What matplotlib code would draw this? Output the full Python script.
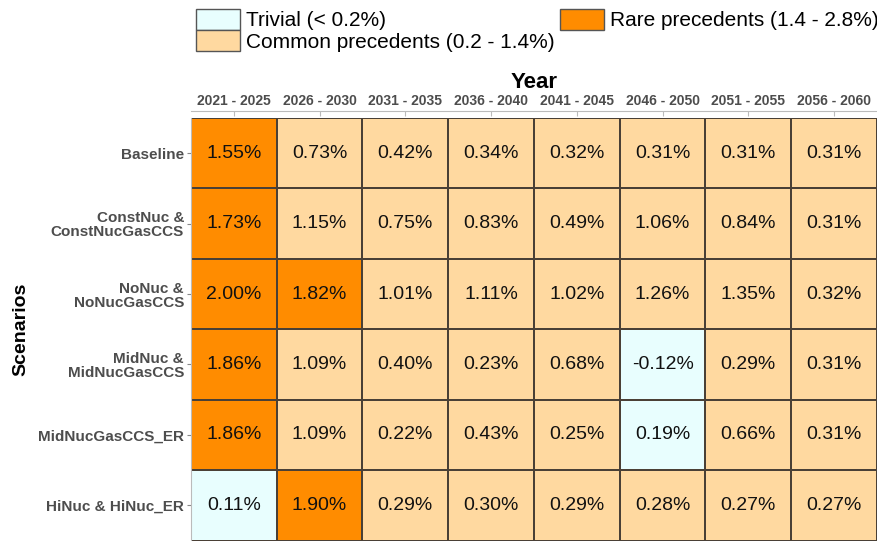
import numpy as np
import matplotlib
matplotlib.use("Agg")
import matplotlib.pyplot as plt
from matplotlib.colors import ListedColormap, BoundaryNorm
from matplotlib.patches import Patch

plt.rcParams['font.family'] = ['Liberation Sans', 'DejaVu Sans']

periods = ['2021 - 2025', '2026 - 2030', '2031 - 2035', '2036 - 2040',
           '2041 - 2045', '2046 - 2050', '2051 - 2055', '2056 - 2060']
scenarios = ['Baseline', 'ConstNuc &\nConstNucGasCCS', 'NoNuc &\nNoNucGasCCS',
             'MidNuc &\nMidNucGasCCS', 'MidNucGasCCS_ER', 'HiNuc & HiNuc_ER']

baseline = [1.55, 0.73, 0.42, 0.34, 0.32, 0.31, 0.31, 0.31]
constnuc = [1.73, 1.15, 0.75, 0.83, 0.49, 1.06, 0.84, 0.31]
nonuc = [2.00, 1.82, 1.01, 1.11, 1.02, 1.26, 1.35, 0.32]
midnuc = [1.86, 1.09, 0.40, 0.23, 0.68, -0.12, 0.29, 0.31]
midnuc_er = [1.86, 1.09, 0.22, 0.43, 0.25, 0.19, 0.66, 0.31]
hinuc = [0.11, 1.90, 0.29, 0.30, 0.29, 0.28, 0.27, 0.27]

bins = [-10, 0.2, 1.4, 10]
cat_colors = ['#E8FEFE', '#FFD9A0', '#FF8C00']
cat_labels = ['Trivial (< 0.2%)', 'Common precedents (0.2 - 1.4%)', 'Rare precedents (1.4 - 2.8%)']

vals = np.array([baseline, constnuc, nonuc, midnuc, midnuc_er, hinuc])

fig = plt.figure(figsize=(8.78, 5.41), dpi=100)
ax = fig.add_axes([191/878, 0.5/541, 686/878, 422.5/541])

# spines first: moving a spine resets the ticks
for s in ['right', 'bottom']:
    ax.spines[s].set_visible(False)
ax.spines['top'].set_position(('outward', 5))
ax.spines['top'].set_color('#bbbbbb')
ax.spines['left'].set_color('#bbbbbb')

cmap = ListedColormap(cat_colors)
norm = BoundaryNorm(bins, cmap.N)
ax.pcolormesh(np.arange(len(periods)+1), np.arange(len(scenarios)+1), vals,
              cmap=cmap, norm=norm, edgecolors='#4a4036', linewidth=1.2)
ax.set_xlim(0, len(periods))
ax.set_ylim(len(scenarios), 0)

for i in range(len(scenarios)):
    for j in range(len(periods)):
        ax.text(j + 0.5, i + 0.5, '%.2f%%' % vals[i, j], ha='center', va='center',
                fontsize=14, color='#111111')

ax.xaxis.tick_top()
ax.xaxis.set_label_position('top')
ax.set_xticks(np.arange(len(periods)) + 0.5)
ax.set_xticklabels(periods)
ax.set_yticks(np.arange(len(scenarios)) + 0.5)
ax.set_yticklabels(scenarios, linespacing=1.0)
ax.tick_params(axis='x', direction='in', length=3.6, color='#bbbbbb', pad=2,
               labelsize=10, labelcolor='#4d4d4d')
ax.tick_params(axis='y', length=3, color='#888888', pad=2,
               labelsize=11, labelcolor='#4d4d4d')
for t in ax.xaxis.get_major_ticks():
    t.label2.set_fontweight('bold')
for t in ax.yaxis.get_major_ticks():
    t.label1.set_fontweight('bold')
ax.set_xlabel('Year', fontsize=16, fontweight='bold', labelpad=4.5)
ax.set_ylabel('Scenarios', fontsize=14, fontweight='bold', labelpad=6)

handles = [Patch(facecolor=c, edgecolor='#555555', linewidth=1) for c in cat_colors]
fig.legend(handles, cat_labels, loc='upper left', bbox_to_anchor=(196/878, 1 - 9/541),
           ncol=2, frameon=False, fontsize=15, handlelength=2.1, handleheight=1.15,
           labelspacing=0.0, handletextpad=0.3, columnspacing=0.28, borderpad=0,
           borderaxespad=0)

fig.savefig('out.png', dpi=100)
